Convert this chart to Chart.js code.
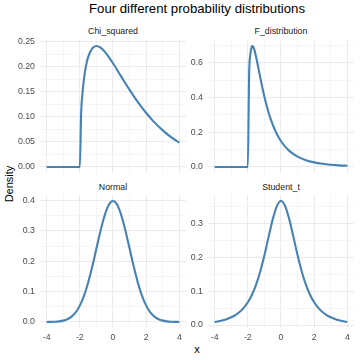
<!DOCTYPE html>
<html>
<head>
<meta charset="utf-8">
<script src="https://cdn.jsdelivr.net/npm/chart.js@4.4.1/dist/chart.umd.min.js"></script>
<style>
  html, body { margin: 0; padding: 0; background: #fff; }
  #wrap { position: relative; width: 360px; height: 360px; overflow: hidden; font-family: "Liberation Sans", Arial, sans-serif; }
  .box { position: absolute; }
  .lbl { position: absolute; white-space: nowrap; transform: translate(-50%, -50%); line-height: 1; }
</style>
</head>
<body>
<div id="wrap">
  <div class="lbl" style="left:197px; top:9px; font-size:13.2px; color:#000;">Four different probability distributions</div>
  <div class="lbl" style="left:113px; top:31px; font-size:8.8px; color:#1a1a1a;">Chi_squared</div>
  <div class="lbl" style="left:281px; top:31px; font-size:8.8px; color:#1a1a1a;">F_distribution</div>
  <div class="lbl" style="left:113px; top:187px; font-size:8.8px; color:#1a1a1a;">Normal</div>
  <div class="lbl" style="left:281px; top:187px; font-size:8.8px; color:#1a1a1a;">Student_t</div>
  <div class="lbl" style="left:9px; top:184px; font-size:11px; color:#000; transform: translate(-50%, -50%) rotate(-90deg);">Density</div>
  <div class="lbl" style="left:197px; top:349px; font-size:11px; color:#000;">x</div>

  <div class="box" style="left:0px; top:29px; width:194px; height:155px;"><canvas id="cChi"></canvas></div>
  <div class="box" style="left:180px; top:29px; width:182px; height:155px;"><canvas id="cF"></canvas></div>
  <div class="box" style="left:0px; top:184px; width:194px; height:158px;"><canvas id="cNorm"></canvas></div>
  <div class="box" style="left:180px; top:184px; width:182px; height:158px;"><canvas id="cT"></canvas></div>
</div>
<script>
// ---- datos ----
const xNormal = [-4, -3.75, -3.5, -3.25, -3, -2.75, -2.5, -2.25, -2, -1.75, -1.5, -1.25, -1, -0.75, -0.5, -0.25, 0,
                 0.25, 0.5, 0.75, 1, 1.25, 1.5, 1.75, 2, 2.25, 2.5, 2.75, 3, 3.25, 3.5, 3.75, 4];
const yNormal = [0.0001, 0.0004, 0.0009, 0.0020, 0.0044, 0.0091, 0.0175, 0.0317, 0.0540, 0.0863, 0.1295, 0.1826, 0.2420, 0.3011, 0.3521, 0.3867, 0.3989,
                 0.3867, 0.3521, 0.3011, 0.2420, 0.1826, 0.1295, 0.0863, 0.0540, 0.0317, 0.0175, 0.0091, 0.0044, 0.0020, 0.0009, 0.0004, 0.0001];

const xStudent = xNormal;
const yStudent = [0.0092, 0.0114, 0.0142, 0.0180, 0.0230, 0.0297, 0.0387, 0.0509, 0.0675, 0.0900, 0.1200, 0.1589, 0.2068, 0.2607, 0.3132, 0.3527, 0.3676,
                  0.3527, 0.3132, 0.2607, 0.2068, 0.1589, 0.1200, 0.0900, 0.0675, 0.0509, 0.0387, 0.0297, 0.0230, 0.0180, 0.0142, 0.0114, 0.0092];

const xChi = [-4, -3, -2, -1.92, -1.84, -1.76, -1.68, -1.6, -1.5, -1.25, -1, -0.75, -0.5, -0.25, 0, 0.5, 1, 1.5, 2, 2.5, 3, 3.5, 4];
const yChi = [0, 0, 0, 0.1084, 0.1473, 0.1733, 0.1923, 0.2066, 0.2197, 0.2375, 0.2420, 0.2388, 0.2308, 0.2200, 0.2076, 0.1807, 0.1542, 0.1297, 0.1080, 0.0892, 0.0732, 0.0598, 0.0487];

const xF = [-4, -3, -2, -1.92, -1.84, -1.76, -1.72, -1.68, -1.6, -1.5, -1.4, -1.25, -1, -0.75, -0.5, -0.25, 0, 0.5, 1, 1.5, 2, 2.5, 3, 3.5, 4];
const yF = [0, 0, 0, 0.5391, 0.6559, 0.6934, 0.6968, 0.6934, 0.6734, 0.6339, 0.5875, 0.5150, 0.4041, 0.3138, 0.2434, 0.1894, 0.1482, 0.0926, 0.0594, 0.0392, 0.0264, 0.0183, 0.0129, 0.0093, 0.0068];

// ticks (mayores y menores)
const xTicks = [-4, -2, 0, 2, 4];
const xMinor = [-3, -1, 1, 3];
const chiTicks = [0, 0.05, 0.10, 0.15, 0.20, 0.25];
const chiMinor = [0.025, 0.075, 0.125, 0.175, 0.225];
const fTicks = [0, 0.2, 0.4, 0.6];
const fMinor = [0.1, 0.3, 0.5, 0.7];
const normTicks = [0, 0.1, 0.2, 0.3, 0.4];
const normMinor = [0.05, 0.15, 0.25, 0.35];
const tTicks = [0, 0.1, 0.2, 0.3];
const tMinor = [0.05, 0.15, 0.25, 0.35];

const FONT = '"Liberation Sans", Arial, sans-serif';
const LINE_COLOR = '#4682B4';

function buildTicks(major, minor) {
    return function(scale) {
        const t = major.map(v => ({ value: v }))
            .concat(minor.map(v => ({ value: v, sub: true })));
        t.sort((a, b) => a.value - b.value);
        scale.ticks = t;
    };
}

function gridOpts() {
    return {
        drawTicks: false,
        color: ctx => (ctx.tick && ctx.tick.sub) ? '#f3f3f3' : '#ebebeb',
        lineWidth: ctx => (ctx.tick && ctx.tick.sub) ? 0.8 : 1.1
    };
}

// Funcion generica para cada panel
function renderPanel(cfg) {
    const ctx = document.getElementById(cfg.canvasId).getContext('2d');
    const puntos = cfg.xs.map((x, i) => ({ x: x, y: cfg.ys[i] }));

    return new Chart(ctx, {
        type: 'line',
        data: {
            datasets: [{
                data: puntos,
                borderColor: LINE_COLOR,
                borderWidth: 2.1,
                pointRadius: 0,
                cubicInterpolationMode: 'monotone',
                fill: false
            }]
        },
        options: {
            responsive: true,
            maintainAspectRatio: false,
            animation: false,
            layout: { padding: cfg.padding },
            plugins: {
                legend: { display: false },
                tooltip: { enabled: false }
            },
            scales: {
                x: {
                    type: 'linear',
                    min: -4.4,
                    max: 4.4,
                    afterBuildTicks: buildTicks(xTicks, xMinor),
                    afterFit: s => { s.height = cfg.xHeight; },
                    border: { display: false },
                    grid: gridOpts(),
                    ticks: {
                        display: cfg.showX,
                        autoSkip: false,
                        maxRotation: 0,
                        padding: 4,
                        color: '#4d4d4d',
                        font: { family: FONT, size: 8.8 },
                        callback: function(value, index, ticks) {
                            return ticks[index].sub ? '' : String(value);
                        }
                    }
                },
                y: {
                    type: 'linear',
                    min: cfg.yMin,
                    max: cfg.yMax,
                    afterBuildTicks: buildTicks(cfg.yTicks, cfg.yMinor),
                    afterFit: s => { s.width = cfg.yWidth; },
                    border: { display: false },
                    grid: gridOpts(),
                    ticks: {
                        autoSkip: false,
                        padding: 5,
                        color: '#4d4d4d',
                        font: { family: FONT, size: 8.8 },
                        callback: function(value, index, ticks) {
                            return ticks[index].sub ? '' : value.toFixed(cfg.dec);
                        }
                    }
                }
            }
        }
    });
}

renderPanel({
    canvasId: 'cChi', xs: xChi, ys: yChi,
    yMin: -0.0121, yMax: 0.2541, yTicks: chiTicks, yMinor: chiMinor, dec: 2,
    yWidth: 40, xHeight: 0, showX: false,
    padding: { top: 11, right: 8, bottom: 11, left: 0 }
});
renderPanel({
    canvasId: 'cF', xs: xF, ys: yF,
    yMin: -0.0348, yMax: 0.7316, yTicks: fTicks, yMinor: fMinor, dec: 1,
    yWidth: 28, xHeight: 0, showX: false,
    padding: { top: 11, right: 8, bottom: 11, left: 0 }
});
renderPanel({
    canvasId: 'cNorm', xs: xNormal, ys: yNormal,
    yMin: -0.0199, yMax: 0.4188, yTicks: normTicks, yMinor: normMinor, dec: 1,
    yWidth: 40, xHeight: 14, showX: true,
    padding: { top: 11, right: 8, bottom: 0, left: 0 }
});
renderPanel({
    canvasId: 'cT', xs: xStudent, ys: yStudent,
    yMin: -0.0087, yMax: 0.3855, yTicks: tTicks, yMinor: tMinor, dec: 1,
    yWidth: 28, xHeight: 14, showX: true,
    padding: { top: 11, right: 8, bottom: 0, left: 0 }
});
</script>
</body>
</html>
